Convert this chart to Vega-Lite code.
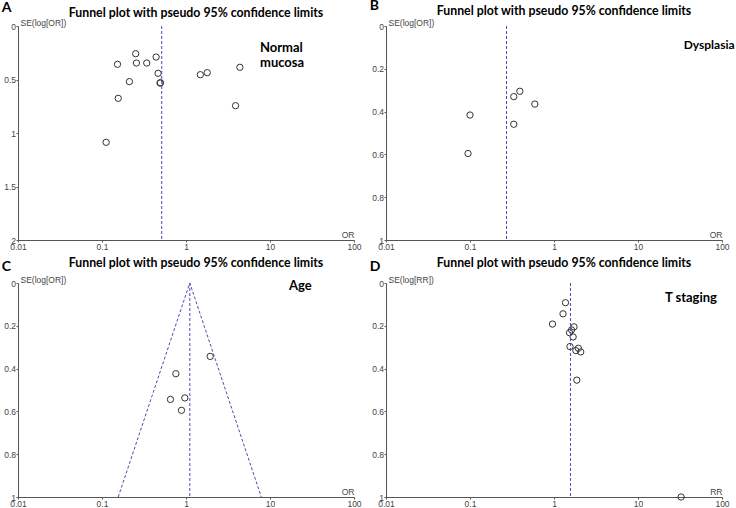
{
  "$schema": "https://vega.github.io/schema/vega-lite/v6.json",
  "background": "white",
  "padding": {"left": 1, "top": -2, "right": 0, "bottom": 0},
  "bounds": "flush",
  "columns": 2,
  "spacing": {"row": 43, "column": 32},
  "config": {
    "view": {"stroke": null},
    "axis": {"grid": false, "domainColor": "#555", "tickColor": "#555", "labelColor": "#444", "titleColor": "#444", "labelFont": "Liberation Sans", "titleFont": "Liberation Sans", "labelFontSize": 8.5, "titleFontSize": 8.5, "titleFontWeight": "normal", "tickSize": 2, "labelPadding": 0.5, "labelFlush": false, "labelOverlap": false},
    "title": {"font": "Lato", "fontWeight": "bold", "fontSize": 12.3, "color": "#000", "anchor": "middle", "frame": "group", "dx": 10}
  },
  "concat": [
        {
          "width": 336, "height": 214,
          "title": {"text": "Funnel plot with pseudo 95% confidence limits", "dy": 22},
          "layer": [
            {
              "data": {"values": [
                {"or": 0.252, "se": 0.259}, {"or": 0.153, "se": 0.358}, {"or": 0.257, "se": 0.346}, {"or": 0.341, "se": 0.346},
                {"or": 0.441, "se": 0.290}, {"or": 0.465, "se": 0.442}, {"or": 0.491, "se": 0.533}, {"or": 0.496, "se": 0.530},
                {"or": 0.212, "se": 0.520}, {"or": 0.156, "se": 0.676}, {"or": 0.112, "se": 1.087}, {"or": 1.48, "se": 0.455},
                {"or": 1.79, "se": 0.436}, {"or": 4.38, "se": 0.386}, {"or": 3.89, "se": 0.745}
              ]},
              "mark": {"type": "point", "shape": "circle", "filled": false, "size": 40, "color": "#333", "strokeWidth": 1, "opacity": 1},
              "encoding": {
                "x": {"field": "or", "type": "quantitative", "scale": {"type": "log", "domain": [0.01, 100], "nice": false},
                  "axis": {"values": [0.01, 0.1, 1, 10, 100], "format": "~g", "title": "OR", "titleX": 336, "titleY": -3, "titleAlign": "right", "titleBaseline": "alphabetic", "titleAnchor": null}},
                "y": {"field": "se", "type": "quantitative", "scale": {"domain": [0, 2], "reverse": true, "nice": false},
                  "axis": {"values": [0, 0.5, 1, 1.5, 2], "format": ".1~f", "title": "SE(log[OR])", "titleAngle": 0, "titleX": 2, "titleY": -1, "titleAlign": "left", "titleBaseline": "alphabetic", "titleAnchor": null}}
              }
            },
            {
              "data": {"values": [{"or": 0.514}]},
              "mark": {"type": "rule", "color": "#4a4ab8", "strokeDash": [3, 2], "strokeWidth": 1},
              "encoding": {"x": {"field": "or", "type": "quantitative"}, "y": {"datum": 0}, "y2": {"datum": 2}}
            },
            {
              "data": {"values": [{"label": "A"}]},
              "mark": {"type": "text", "align": "left", "baseline": "alphabetic", "font": "Lato", "fontWeight": "bold", "fontSize": 14, "color": "#000"},
              "encoding": {"x": {"datum": 0.0064}, "y": {"datum": -0.13}, "text": {"field": "label"}}
            },
            {
              "data": {"values": [{"label": ["Normal", "mucosa"]}]},
              "mark": {"type": "text", "align": "left", "baseline": "alphabetic", "font": "Lato", "fontWeight": "bold", "fontSize": 13, "lineHeight": 15, "color": "#000"},
              "encoding": {"x": {"datum": 7.6}, "y": {"datum": 0.243}, "text": {"field": "label"}}
            }
          ]
        },
        {
          "width": 336, "height": 214,
          "title": {"text": "Funnel plot with pseudo 95% confidence limits", "dy": 22},
          "layer": [
            {
              "data": {"values": [
                {"or": 0.392, "se": 0.305}, {"or": 0.332, "se": 0.330}, {"or": 0.591, "se": 0.365},
                {"or": 0.100, "se": 0.416}, {"or": 0.332, "se": 0.459}, {"or": 0.0948, "se": 0.596}
              ]},
              "mark": {"type": "point", "shape": "circle", "filled": false, "size": 40, "color": "#333", "strokeWidth": 1, "opacity": 1},
              "encoding": {
                "x": {"field": "or", "type": "quantitative", "scale": {"type": "log", "domain": [0.01, 100], "nice": false},
                  "axis": {"values": [0.01, 0.1, 1, 10, 100], "format": "~g", "title": "OR", "titleX": 336, "titleY": -3, "titleAlign": "right", "titleBaseline": "alphabetic", "titleAnchor": null}},
                "y": {"field": "se", "type": "quantitative", "scale": {"domain": [0, 1], "reverse": true, "nice": false},
                  "axis": {"values": [0, 0.2, 0.4, 0.6, 0.8, 1], "format": ".1~f", "title": "SE(log[OR])", "titleAngle": 0, "titleX": 2, "titleY": -1, "titleAlign": "left", "titleBaseline": "alphabetic", "titleAnchor": null}}
              }
            },
            {
              "data": {"values": [{"or": 0.272}]},
              "mark": {"type": "rule", "color": "#4a4ab8", "strokeDash": [3, 2], "strokeWidth": 1},
              "encoding": {"x": {"field": "or", "type": "quantitative"}, "y": {"datum": 0}, "y2": {"datum": 1}}
            },
            {
              "data": {"values": [{"label": "B"}]},
              "mark": {"type": "text", "align": "left", "baseline": "alphabetic", "font": "Lato", "fontWeight": "bold", "fontSize": 14, "color": "#000"},
              "encoding": {"x": {"datum": 0.0064}, "y": {"datum": -0.075}, "text": {"field": "label"}}
            },
            {
              "data": {"values": [{"label": "Dysplasia"}]},
              "mark": {"type": "text", "align": "left", "baseline": "alphabetic", "font": "Lato", "fontWeight": "bold", "fontSize": 12, "color": "#000"},
              "encoding": {"x": {"datum": 35}, "y": {"datum": 0.108}, "text": {"field": "label"}}
            }
          ]
        },
        {
          "width": 336, "height": 214,
          "title": {"text": "Funnel plot with pseudo 95% confidence limits", "dy": 13},
          "layer": [
            {
              "data": {"values": [
                {"or": 1.94, "se": 0.343}, {"or": 0.757, "se": 0.424}, {"or": 0.653, "se": 0.544},
                {"or": 0.968, "se": 0.537}, {"or": 0.883, "se": 0.595}
              ]},
              "mark": {"type": "point", "shape": "circle", "filled": false, "size": 40, "color": "#333", "strokeWidth": 1, "opacity": 1},
              "encoding": {
                "x": {"field": "or", "type": "quantitative", "scale": {"type": "log", "domain": [0.01, 100], "nice": false},
                  "axis": {"values": [0.01, 0.1, 1, 10, 100], "format": "~g", "title": "OR", "titleX": 336, "titleY": -3, "titleAlign": "right", "titleBaseline": "alphabetic", "titleAnchor": null}},
                "y": {"field": "se", "type": "quantitative", "scale": {"domain": [0, 1], "reverse": true, "nice": false},
                  "axis": {"values": [0, 0.2, 0.4, 0.6, 0.8, 1], "format": ".1~f", "title": "SE(log[OR])", "titleAngle": 0, "titleX": 2, "titleY": -1, "titleAlign": "left", "titleBaseline": "alphabetic", "titleAnchor": null}}
              }
            },
            {
              "data": {"values": [{"or": 1.11}]},
              "mark": {"type": "rule", "color": "#4a4ab8", "strokeDash": [3, 2], "strokeWidth": 1},
              "encoding": {"x": {"field": "or", "type": "quantitative"}, "y": {"datum": 0}, "y2": {"datum": 1}}
            },
            {
              "data": {"values": [{"or": 0.156, "se": 1, "k": 1}, {"or": 1.11, "se": 0, "k": 2}, {"or": 7.88, "se": 1, "k": 3}]},
              "mark": {"type": "line", "color": "#4a4ab8", "strokeDash": [3, 2], "strokeWidth": 1},
              "encoding": {"x": {"field": "or", "type": "quantitative"}, "y": {"field": "se", "type": "quantitative"}, "order": {"field": "k"}}
            },
            {
              "data": {"values": [{"label": "C"}]},
              "mark": {"type": "text", "align": "left", "baseline": "alphabetic", "font": "Lato", "fontWeight": "bold", "fontSize": 14, "color": "#000"},
              "encoding": {"x": {"datum": 0.0064}, "y": {"datum": -0.056}, "text": {"field": "label"}}
            },
            {
              "data": {"values": [{"label": "Age"}]},
              "mark": {"type": "text", "align": "left", "baseline": "alphabetic", "font": "Lato", "fontWeight": "bold", "fontSize": 13, "color": "#000"},
              "encoding": {"x": {"datum": 16.8}, "y": {"datum": 0.033}, "text": {"field": "label"}}
            }
          ]
        },
        {
          "width": 336, "height": 214,
          "title": {"text": "Funnel plot with pseudo 95% confidence limits", "dy": 13},
          "layer": [
            {
              "data": {"values": [
                {"rr": 1.37, "se": 0.092}, {"rr": 1.28, "se": 0.144}, {"rr": 0.959, "se": 0.192}, {"rr": 1.73, "se": 0.205},
                {"rr": 1.62, "se": 0.219}, {"rr": 1.53, "se": 0.232}, {"rr": 1.69, "se": 0.252}, {"rr": 1.55, "se": 0.297},
                {"rr": 1.95, "se": 0.305}, {"rr": 1.82, "se": 0.316}, {"rr": 2.08, "se": 0.322}, {"rr": 1.87, "se": 0.454},
                {"rr": 32.6, "se": 1.0}
              ]},
              "mark": {"type": "point", "shape": "circle", "filled": false, "size": 40, "color": "#333", "strokeWidth": 1, "opacity": 1},
              "encoding": {
                "x": {"field": "rr", "type": "quantitative", "scale": {"type": "log", "domain": [0.01, 100], "nice": false},
                  "axis": {"values": [0.01, 0.1, 1, 10, 100], "format": "~g", "title": "RR", "titleX": 336, "titleY": -3, "titleAlign": "right", "titleBaseline": "alphabetic", "titleAnchor": null}},
                "y": {"field": "se", "type": "quantitative", "scale": {"domain": [0, 1], "reverse": true, "nice": false},
                  "axis": {"values": [0, 0.2, 0.4, 0.6, 0.8, 1], "format": ".1~f", "title": "SE(log[RR])", "titleAngle": 0, "titleX": 2, "titleY": -1, "titleAlign": "left", "titleBaseline": "alphabetic", "titleAnchor": null}}
              }
            },
            {
              "data": {"values": [{"rr": 1.57}]},
              "mark": {"type": "rule", "color": "#4a4ab8", "strokeDash": [3, 2], "strokeWidth": 1},
              "encoding": {"x": {"field": "rr", "type": "quantitative"}, "y": {"datum": 0}, "y2": {"datum": 1}}
            },
            {
              "data": {"values": [{"label": "D"}]},
              "mark": {"type": "text", "align": "left", "baseline": "alphabetic", "font": "Lato", "fontWeight": "bold", "fontSize": 14, "color": "#000"},
              "encoding": {"x": {"datum": 0.0064}, "y": {"datum": -0.056}, "text": {"field": "label"}}
            },
            {
              "data": {"values": [{"label": "T staging"}]},
              "mark": {"type": "text", "align": "left", "baseline": "alphabetic", "font": "Lato", "fontWeight": "bold", "fontSize": 13, "color": "#000"},
              "encoding": {"x": {"datum": 20.9}, "y": {"datum": 0.089}, "text": {"field": "label"}}
            }
          ]
        }
  ]
}
